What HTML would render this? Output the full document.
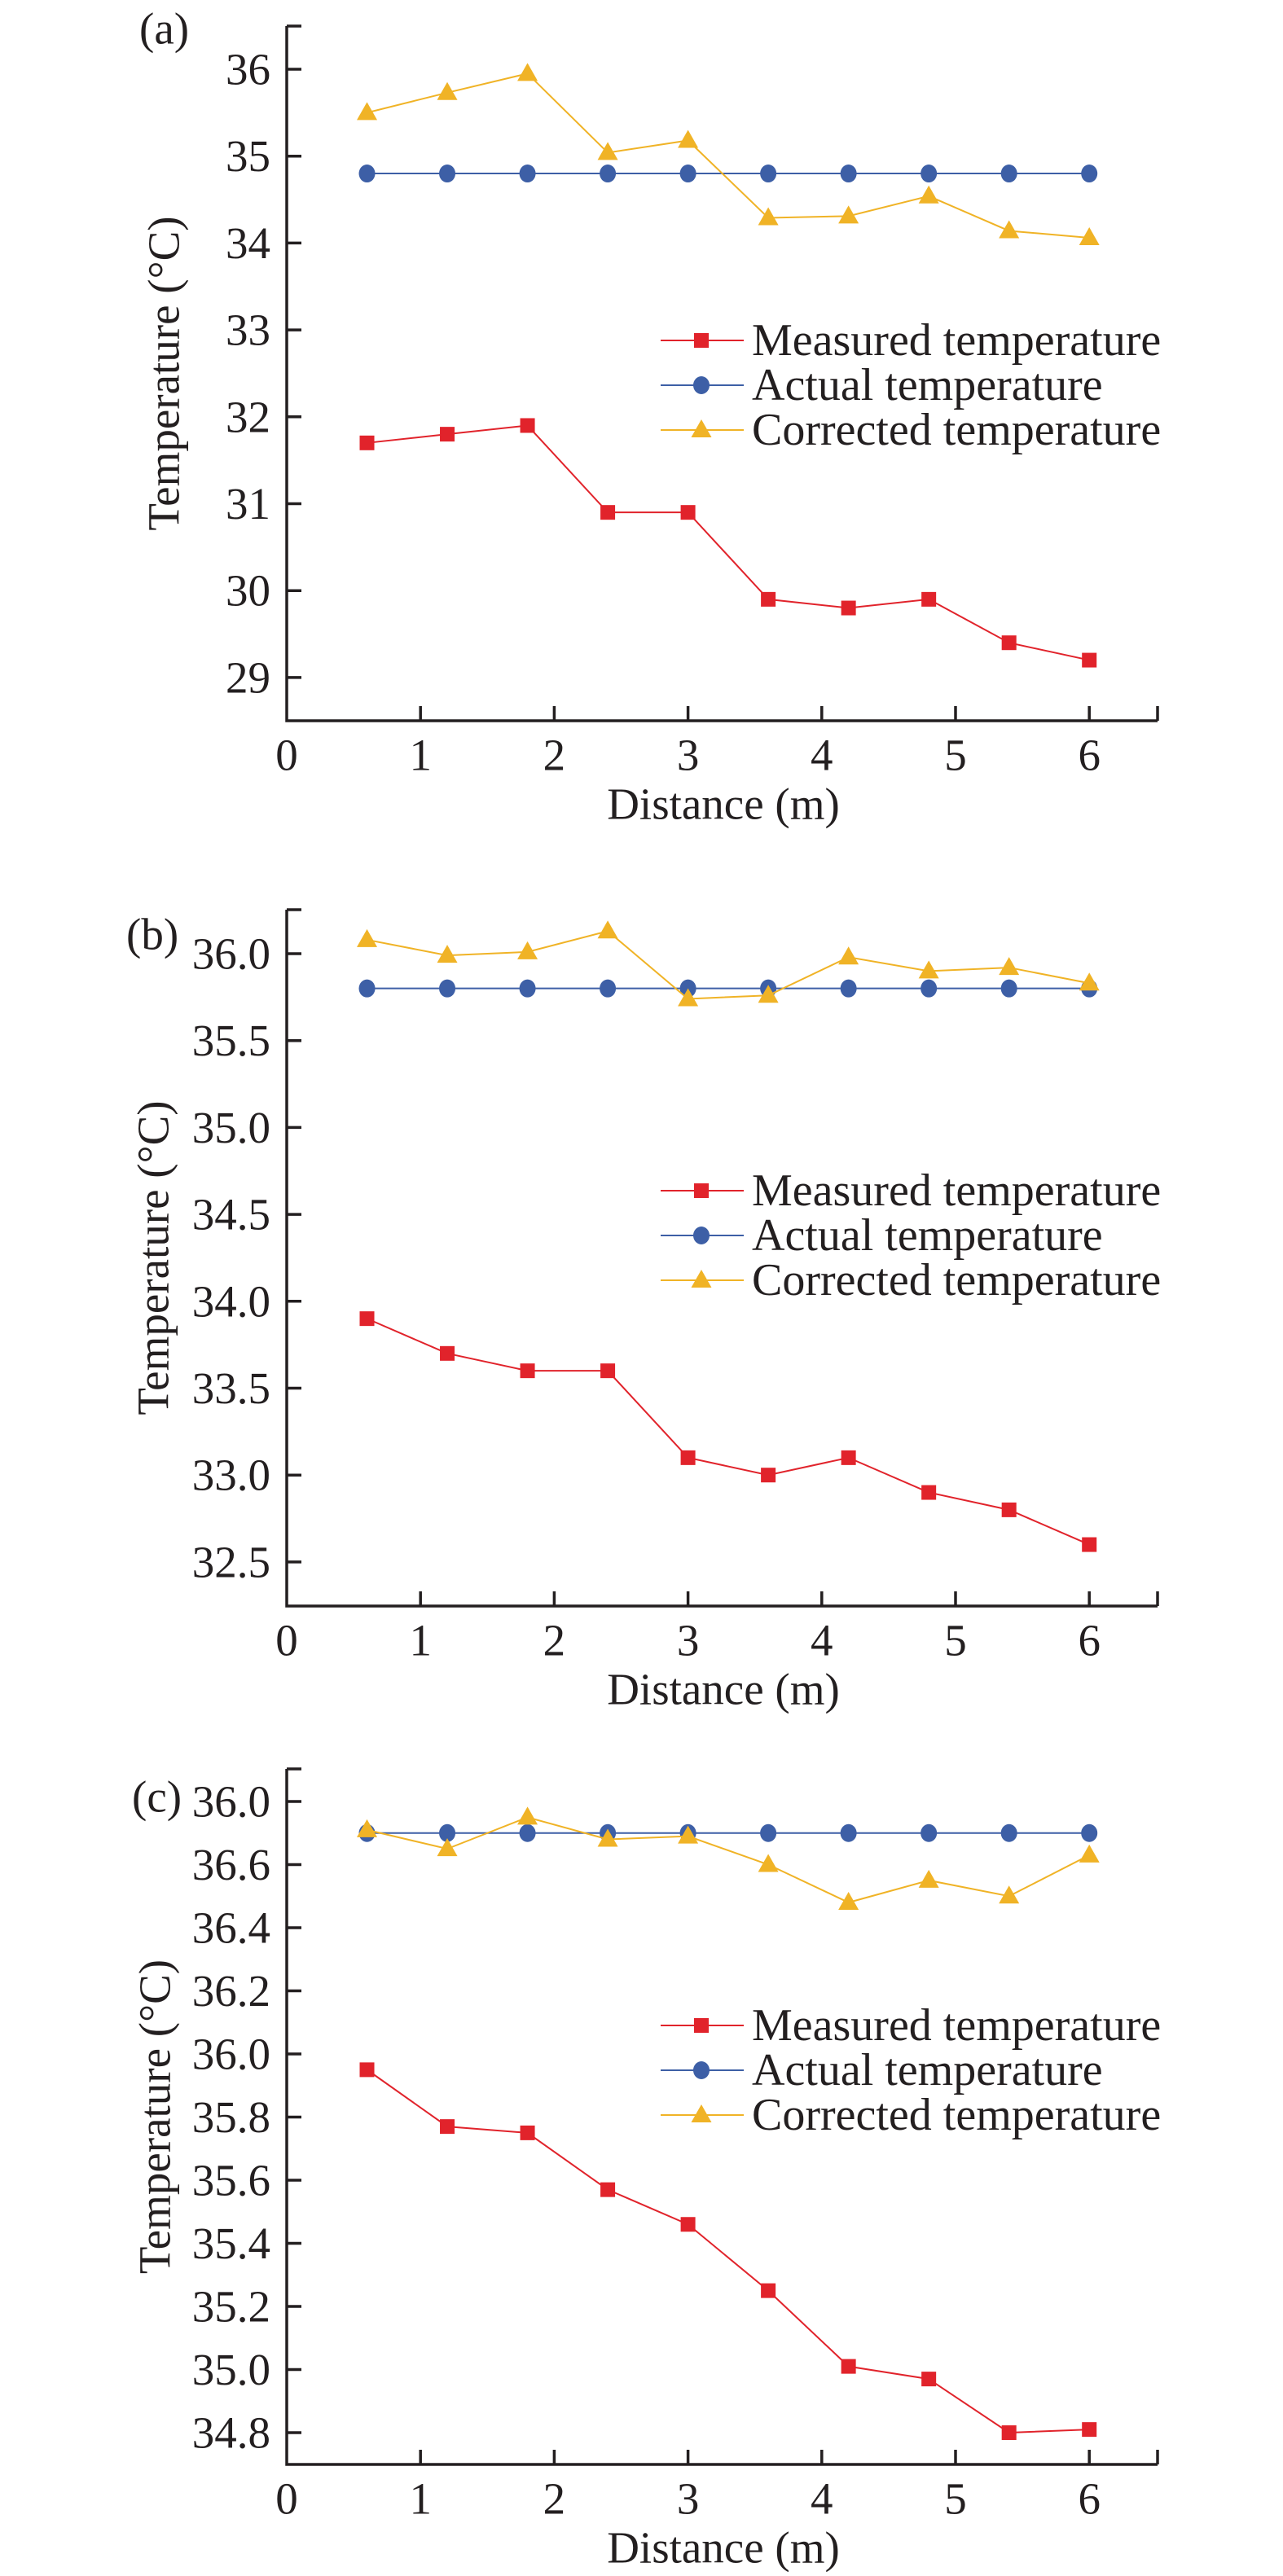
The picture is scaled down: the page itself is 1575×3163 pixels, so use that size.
<!DOCTYPE html>
<html><head><meta charset="utf-8"><style>
html,body{margin:0;padding:0;background:#fff}
svg{display:block}
text{font-family:"Liberation Serif",serif;fill:#231f20}
</style></head><body>
<svg id="fig" width="1575" height="3163" viewBox="0 0 1575 3163" xmlns="http://www.w3.org/2000/svg"></svg>
<script>
const distances = [0.6,1.2,1.8,2.4,3.0,3.6,4.2,4.8,5.4,6.0];
const xTicks = [0,1,2,3,4,5,6];
const seriesNames = ["Measured temperature","Actual temperature","Corrected temperature"];

const measuredA = [31.7,31.8,31.9,30.9,30.9,29.9,29.8,29.9,29.4,29.2];
const actualA = [34.8,34.8,34.8,34.8,34.8,34.8,34.8,34.8,34.8,34.8];
const correctedA = [35.5,35.73,35.95,35.04,35.18,34.29,34.31,34.54,34.14,34.06];
const yTicksA = [29,30,31,32,33,34,35,36];
const yLabelsA = ["29","30","31","32","33","34","35","36"];

const measuredB = [33.9,33.7,33.6,33.6,33.1,33.0,33.1,32.9,32.8,32.6];
const actualB = [35.8,35.8,35.8,35.8,35.8,35.8,35.8,35.8,35.8,35.8];
const correctedB = [36.08,35.99,36.01,36.13,35.74,35.76,35.98,35.9,35.92,35.83];
const yTicksB = [32.5,33.0,33.5,34.0,34.5,35.0,35.5,36.0];
const yLabelsB = ["32.5","33.0","33.5","34.0","34.5","35.0","35.5","36.0"];

const measuredC = [35.95,35.77,35.75,35.57,35.46,35.25,35.01,34.97,34.8,34.81];
const actualC = [36.7,36.7,36.7,36.7,36.7,36.7,36.7,36.7,36.7,36.7];
const correctedC = [36.71,36.65,36.75,36.68,36.69,36.6,36.48,36.55,36.5,36.63];
const yTicksC = [34.8,35.0,35.2,35.4,35.6,35.8,36.0,36.2,36.4,36.6,36.8];
const yLabelsC = ["34.8","35.0","35.2","35.4","35.6","35.8","36.0","36.2","36.4","36.6","36.0"];

const NS = "http://www.w3.org/2000/svg";
const svg = document.getElementById("fig");
const COL = {m:"#e1232b", a:"#3d5fa6", c:"#f0b326", ax:"#231f20"};
function mk(tag, attrs, parent){
  const e = document.createElementNS(NS, tag);
  for (const k in attrs) e.setAttribute(k, attrs[k]);
  (parent||svg).appendChild(e);
  return e;
}
const X0 = 352, XR = 1421, XU = 164.2;
function xs(v){ return X0 + v*XU; }

function panel(cfg){
  const g = mk("g", {});
  
  
  const ys = v => cfg.yRef + (cfg.vRef - v)*cfg.yU;
  // axes
  const ax = mk("path", {d:`M${X0},${cfg.top}V${cfg.bottom}H${XR}`, fill:"none", stroke:COL.ax, "stroke-width":3.5}, g);
  
  
  mk("line",{x1:X0,y1:cfg.top,x2:X0+18,y2:cfg.top,stroke:COL.ax,"stroke-width":3.5},g);
  mk("line",{x1:XR,y1:cfg.bottom,x2:XR,y2:cfg.bottom-18,stroke:COL.ax,"stroke-width":3.5},g);
  cfg.yTicks.forEach((t,i)=>{
    const y = ys(t);
    const tk = mk("line",{x1:X0,y1:y,x2:X0+18,y2:y,stroke:COL.ax,"stroke-width":3.5},g);
    
    
    const tl = mk("text",{x:332,y:y,"font-size":55,"text-anchor":"end","dominant-baseline":"central"},g);
    tl.textContent = cfg.yLabels[i];
    
    
  });
  xTicks.forEach(t=>{
    const x = xs(t);
    if (t>0){
      const tk = mk("line",{x1:x,y1:cfg.bottom,x2:x,y2:cfg.bottom-18,stroke:COL.ax,"stroke-width":3.5},g);
      
      
    }
    const tl = mk("text",{x:x,y:cfg.bottom+42,"font-size":55,"text-anchor":"middle","dominant-baseline":"central"},g);
    tl.textContent = String(t);
    
    
  });
  const xt = mk("text",{x:888,y:cfg.bottom+102,"font-size":55,"text-anchor":"middle","dominant-baseline":"central"},g);
  xt.textContent = "Distance (m)";
  
  
  const ycx = cfg.titleX, ycy = (cfg.top+cfg.bottom)/2;
  const yt = mk("text",{x:ycx,y:ycy,"font-size":55,"text-anchor":"middle","dominant-baseline":"central",transform:`rotate(-90 ${ycx} ${ycy})`},g);
  yt.textContent = "Temperature (°C)";
  
  
  const pl = mk("text",{x:cfg.labelX,y:cfg.labelY,"font-size":55,"dominant-baseline":"central"},g);
  pl.textContent = "(" + cfg.id + ")";
  
  

  function marker(type, x, y, parent){
    let e;
    if (type==="m") e = mk("rect",{x:x-9,y:y-9,width:18,height:18,fill:COL.m},parent);
    else if (type==="a") e = mk("ellipse",{cx:x,cy:y,rx:10,ry:11,fill:COL.a},parent);
    else e = mk("path",{d:`M${x},${y-13}L${x+12.5},${y+9}L${x-12.5},${y+9}Z`,fill:COL.c},parent);
    return e;
  }
  const series = [["m",cfg.m],["a",cfg.a],["c",cfg.c]];
  series.forEach(([k,vals])=>{
    const sg = mk("g",{},g);
    
    
    const pts = vals.map((v,i)=>xs(distances[i])+","+ys(v)).join(" ");
    mk("polyline",{points:pts,fill:"none",stroke:COL[k],"stroke-width":2},sg);
    vals.forEach((v,i)=>{
      const mkr = marker(k, xs(distances[i]), ys(v), sg);
      
      
    });
  });
  // legend
  const lg = mk("g",{},g);
  
  
  ["m","a","c"].forEach((k,i)=>{
    const y = cfg.legY + i*55;
    const le = mk("g",{},lg);
    
    
    mk("line",{x1:811,y1:y,x2:913,y2:y,stroke:COL[k],"stroke-width":2},le);
    marker(k, 861, y, le);
    const t = mk("text",{x:923,y:y,"font-size":56,"dominant-baseline":"central"},le);
    t.textContent = seriesNames[i];
  });
}

panel({id:"a", top:32, bottom:885, yRef:85, vRef:36, yU:106.7, yTicks:yTicksA, yLabels:yLabelsA,
  m:measuredA, a:actualA, c:correctedA, legY:418, titleX:201, labelX:171, labelY:35});
panel({id:"b", top:1117, bottom:1972, yRef:1171, vRef:36, yU:213.4, yTicks:yTicksB, yLabels:yLabelsB,
  m:measuredB, a:actualB, c:correctedB, legY:1462, titleX:188, labelX:155, labelY:1147});
panel({id:"c", top:2172, bottom:3026, yRef:2212, vRef:36.8, yU:387.5, yTicks:yTicksC, yLabels:yLabelsC,
  m:measuredC, a:actualC, c:correctedC, legY:2487, titleX:190, labelX:162, labelY:2206});
</script>
</body></html>
